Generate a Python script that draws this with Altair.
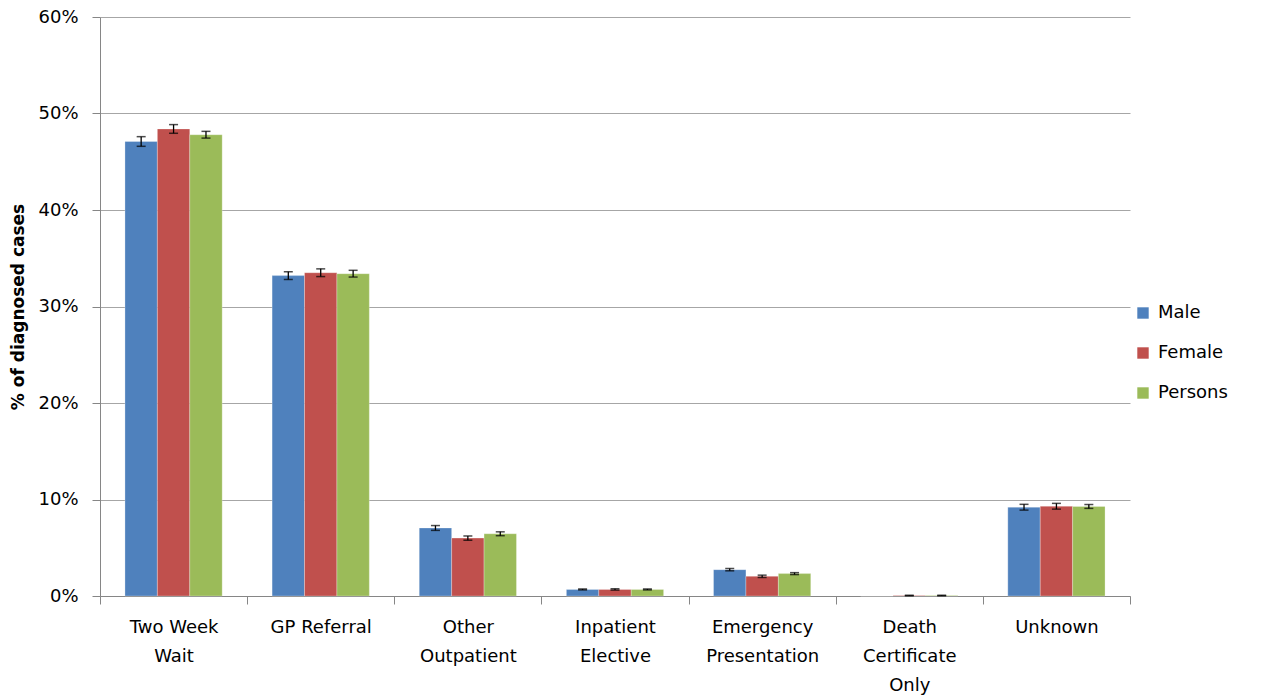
import altair as alt
import pandas as pd

categories = ["Two Week|Wait", "GP Referral", "Other|Outpatient", "Inpatient|Elective",
              "Emergency|Presentation", "Death|Certificate|Only", "Unknown"]
groups = ["Male", "Female", "Persons"]
male = [47.1, 33.2, 7.05, 0.68, 2.73, 0.0, 9.2]
female = [48.4, 33.5, 6.0, 0.68, 2.04, 0.05, 9.3]
persons = [47.8, 33.4, 6.45, 0.68, 2.32, 0.05, 9.28]
male_err = [0.5, 0.4, 0.25, 0.05, 0.12, 0.0, 0.3]
female_err = [0.45, 0.4, 0.22, 0.07, 0.12, 0.03, 0.3]
persons_err = [0.35, 0.35, 0.2, 0.05, 0.1, 0.03, 0.2]
colors = ["#4F81BD", "#C0504D", "#9BBB59"]

rows = []
for g, vals, errs in [("Male", male, male_err), ("Female", female, female_err), ("Persons", persons, persons_err)]:
    for c, v, e in zip(categories, vals, errs):
        rows.append({"category": c, "group": g, "value": v, "lo": v - e, "hi": v + e, "err": e})
df = pd.DataFrame(rows)

FONT = "DejaVu Sans"
x = alt.X("category:N", sort=categories, title=None,
          scale=alt.Scale(paddingInner=0, paddingOuter=0),
          axis=alt.Axis(labelExpr="split(datum.label, '|')", labelAngle=0, labelFontSize=18,
                        labelFont=FONT, labelColor="#000", labelLineHeight=29, labelPadding=14,
                        tickBand="extent", tickSize=8, tickColor="#868686", domainColor="#868686",
                        labelBaseline="top", grid=False))
xo = alt.XOffset("group:N", sort=groups, scale=alt.Scale(paddingInner=0, paddingOuter=0.77))

base = alt.Chart(df)
bars = base.mark_bar(stroke="white", strokeOpacity=0.35, strokeWidth=0.8).encode(
    x=x, xOffset=xo,
    y=alt.Y("value:Q", scale=alt.Scale(domain=[0, 60], nice=False), title="% of diagnosed cases",
            axis=alt.Axis(values=[0, 10, 20, 30, 40, 50, 60], labelExpr="datum.value + '%'",
                          labelFontSize=18, labelFont=FONT, labelColor="#000", labelPadding=14,
                          tickSize=8, tickColor="#868686", domainColor="#868686",
                          gridColor="#a6a6a6", gridWidth=1,
                          titleFont=FONT, titleFontSize=17, titleFontWeight="bold", titleColor="#000",
                          titleAngle=-90, titleX=-82, titleY=289.5, titleAlign="center",
                          titleBaseline="middle")),
    color=alt.Color("group:N", sort=groups, scale=alt.Scale(domain=groups, range=colors),
                    legend=alt.Legend(title=None, orient="none", legendX=1034, legendY=287,
                                      symbolType="square", symbolSize=130, symbolStrokeWidth=0,
                                      labelFont=FONT, labelFontSize=18, labelColor="#000",
                                      rowPadding=22, symbolOffset=0, labelOffset=6))
)

eb = df[df["err"] > 0]
ebase = alt.Chart(eb)
rules = ebase.mark_rule(color="black", strokeWidth=1.3).encode(
    x=x, xOffset=xo, y="lo:Q", y2="hi:Q")
caps_lo = ebase.mark_tick(color="black", thickness=1.5, size=9).encode(x=x, xOffset=xo, y="lo:Q")
caps_hi = ebase.mark_tick(color="black", thickness=1.5, size=9).encode(x=x, xOffset=xo, y="hi:Q")

chart = alt.layer(bars, rules, caps_lo, caps_hi).properties(
    width=1030, height=579,
    autosize=alt.AutoSizeParams(type="none"),
    padding={"left": 92, "top": 9, "right": 126, "bottom": 100},
).configure_view(stroke=None)

chart.save("out.html", embed_options={"renderer": "svg", "actions": False})
